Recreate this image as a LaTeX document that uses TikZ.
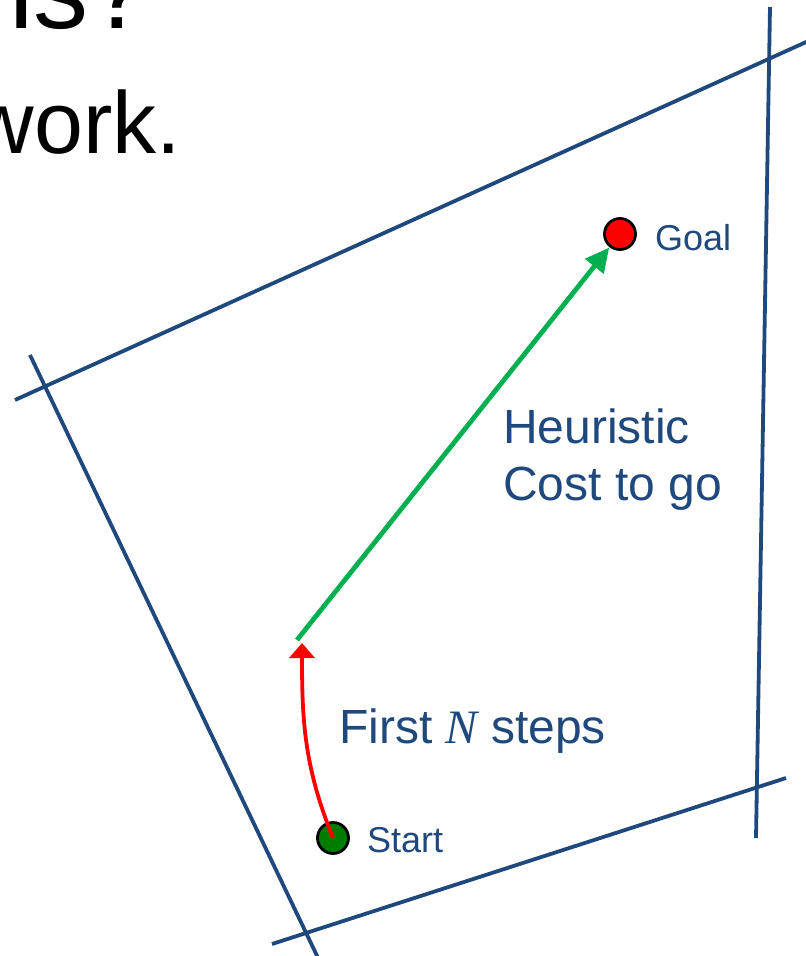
\documentclass[tikz,border=0pt]{standalone}
\usepackage{fontspec}
\setmainfont{Liberation Sans}
\newfontfamily\serifit{Liberation Serif}
\usetikzlibrary{arrows.meta}
\definecolor{navyline}{RGB}{31,73,125}
\definecolor{arrgreen}{RGB}{0,176,80}
\definecolor{dotgreen}{RGB}{0,125,0}
\tikzset{
  bound/.style={draw=navyline, line width=3.8pt},
  marker/.style={circle, draw=black, line width=2.8pt, minimum size=31pt, inner sep=0pt},
  lbl/.style={text=navyline, inner sep=0pt},
  title/.style={text=black, inner sep=0pt},
  greenarrow/.style={draw=arrgreen, line width=4.8pt, -{Triangle[length=24pt,width=23pt]}, shorten >=0.5pt},
  redarrow/.style={draw=red, line width=3.8pt, -{Triangle[length=15pt,width=25pt]}},
}
\begin{document}
\begin{tikzpicture}[x=1pt,y=-1pt]
\useasboundingbox (0,0) rectangle (806,956);
\begin{scope}
\clip (0,0) rectangle (806,956);
% title text fragments (cut off)
\node[title, anchor=base west, font=\fontsize{110}{120}\selectfont] (t1) at (9,28) {is?};
\node[title, anchor=base east, font=\fontsize{88}{100}\selectfont] (t2) at (181,153) {work.};
% boundary lines
\draw[bound] (15,400) -- (815,38);
\draw[bound] (770,7) -- (756,838);
\draw[bound] (272,944) -- (786,778);
\draw[bound] (30,355) -- (320,962);
% markers
\node[marker, fill=red] (goal) at (620,234) {};
\node[marker, fill=dotgreen] (start) at (333,838) {};
\node[lbl, anchor=base west, font=\fontsize{36}{40}\selectfont] (goallbl) at (655,250) {Goal};
\node[lbl, anchor=base west, font=\fontsize{36}{40}\selectfont] (startlbl) at (367,852) {Start};
% arrows
\coordinate (gstart) at (297,640);
\coordinate (rtip) at (302,643);
\draw[greenarrow] (gstart) -- (goal);
\draw[redarrow] (start.center) to[out=112,in=-90] (rtip);
% labels
\node[lbl, anchor=base west, align=left, font=\fontsize{48}{57}\selectfont] (heur) at (503,500) {Heuristic\\Cost to go};
\node[lbl, anchor=base west, font=\fontsize{48}{55}\selectfont] (first) at (339,743) {First {\serifit\itshape N} steps};
\end{scope}
\end{tikzpicture}
\end{document}
